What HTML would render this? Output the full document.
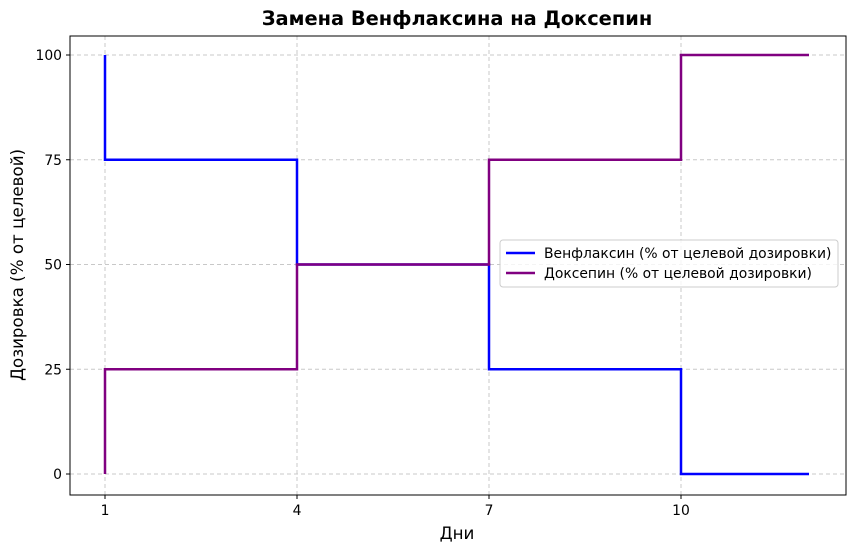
<!DOCTYPE html>
<html><head><meta charset="utf-8"><style>
body{margin:0;background:#fff;font-family:"DejaVu Sans","Liberation Sans",sans-serif;}
</style></head><body>
<svg width="854" height="552" xmlns="http://www.w3.org/2000/svg" font-family="DejaVu Sans, Liberation Sans, sans-serif">
<text x="457" y="25" text-anchor="middle" font-size="19.4" font-weight="bold">Замена Венфлаксина на Доксепин</text>
<g id="grid"></g>
<g id="series"></g>
<rect x="70" y="36" width="776" height="459" fill="none" stroke="#000" stroke-width="1"/>
<g id="axes"></g>
<text x="457" y="539" text-anchor="middle" font-size="16.7">Дни</text>
<text transform="translate(23,265) rotate(-90)" text-anchor="middle" font-size="16.7">Дозировка (% от целевой)</text>
<g>
<rect x="500" y="240" width="338" height="47" rx="3" fill="#fff" fill-opacity="0.8" stroke="#ccc"/>
<line x1="506" y1="253" x2="535" y2="253" stroke="blue" stroke-width="2.5"/>
<text x="544" y="258" font-size="13.9">Венфлаксин (% от целевой дозировки)</text>
<line x1="506" y1="273" x2="535" y2="273" stroke="purple" stroke-width="2.5"/>
<text x="544" y="278" font-size="13.9">Доксепин (% от целевой дозировки)</text>
</g>
</svg>
<script>
const days=[1,4,7,10,12];
const venlafaxine=[100,75,50,25,0];
const doxepin=[0,25,50,75,100];
const xTicks=[1,4,7,10];
const yTicks=[0,25,50,75,100];
const NS="http://www.w3.org/2000/svg";
const xS=d=>105+(d-1)*64;
const yS=v=>474-v*4.19;
const grid=document.getElementById('grid'),axes=document.getElementById('axes'),ser=document.getElementById('series');
function mk(t,a,p){const e=document.createElementNS(NS,t);for(const k in a)e.setAttribute(k,a[k]);p.appendChild(e);return e;}
xTicks.forEach(t=>{const x=xS(t);
const g=mk('line',{x1:x,x2:x,y1:36,y2:495,stroke:'#c8c8c8','stroke-dasharray':'4,3'},grid);


const tk=mk('line',{x1:x,x2:x,y1:495,y2:499,stroke:'#000'},axes);


const l=mk('text',{x:x,y:515,'text-anchor':'middle','font-size':13.9},axes);l.textContent=t;

});
yTicks.forEach(t=>{const y=yS(t);
const g=mk('line',{x1:70,x2:846,y1:y,y2:y,stroke:'#c8c8c8','stroke-dasharray':'4,3'},grid);


const tk=mk('line',{x1:66,x2:70,y1:y,y2:y,stroke:'#000'},axes);


const l=mk('text',{x:62,y:y+5,'text-anchor':'end','font-size':13.9},axes);l.textContent=t;

});
function step(vals,color,name){let d='M'+xS(days[0])+','+yS(vals[0]);
for(let i=1;i<days.length;i++){d+=' L'+xS(days[i-1])+','+yS(vals[i])+' L'+xS(days[i])+','+yS(vals[i]);}
const p=mk('path',{d:d,fill:'none',stroke:color,'stroke-width':2.5},ser);

}
step(venlafaxine,'blue','venlafaxine-line');
step(doxepin,'purple','doxepin-line');
</script>
</body></html>
